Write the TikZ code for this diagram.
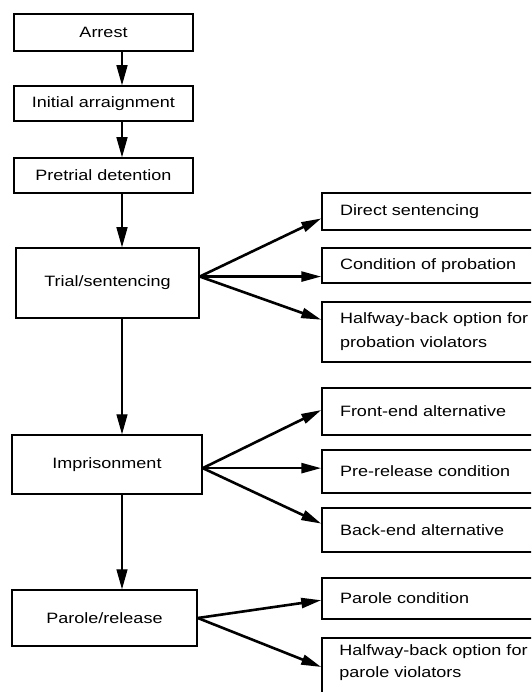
\documentclass[tikz,border=0pt]{standalone}
\usepackage{fontspec}
\setmainfont{Liberation Sans}[FakeStretch=1.2]
\usetikzlibrary{arrows.meta,calc}
\begin{document}
\begin{tikzpicture}[x=1pt,y=-1pt,
  box/.style={draw=black, line width=1.5pt, inner sep=0pt, font=\fontsize{15}{24}\selectfont},
  lbox/.style={box, align=center},
  rbox/.style={box, minimum width=238pt, text width=202pt, align=left, inner xsep=18pt},
  txt/.style={inner sep=0pt, font=\fontsize{15}{22}\selectfont, text width=202pt, align=left},
  varrow/.style={line width=1.3pt, -{Triangle[length=20pt,width=11pt]}},
  darrow/.style={line width=2.6pt, -{Triangle[length=20pt,width=10pt]}}]
\path[use as bounding box] (0,0) rectangle (531,692);
\clip (0,0) rectangle (531,692);
\fill[white] (0,0) rectangle (531,692);

% left column
\node[lbox, minimum width=179pt, minimum height=37pt] (arrest) at (103.5,32.5) {Arrest};
\node[lbox, minimum width=179pt, minimum height=35pt] (initial) at (103.5,103.5) {Initial arraignment};
\node[lbox, minimum width=179pt, minimum height=35pt] (pretrial) at (103.5,175.5) {Pretrial detention};
\node[lbox, minimum width=183pt, minimum height=70pt] (trial) at (107.5,283) {Trial/sentencing};
\node[lbox, minimum width=190pt, minimum height=59pt] (prison) at (107,464.5) {Imprisonment};
\node[lbox, minimum width=185pt, minimum height=56pt] (parole) at (104.5,618) {Parole/release};

% right column
\node[rbox, minimum height=37pt] (direct) at (441,211.5) {Direct sentencing};
\node[rbox, minimum height=35pt] (cond) at (441,265.5) {Condition of probation};
\node[rbox, minimum height=60pt] (hw1) at (441,332) {Halfway-back option for\\probation violators};
\node[rbox, minimum height=47pt] (front) at (441,411.5) {Front-end alternative};
\node[rbox, minimum height=43pt] (prerel) at (441,471.5) {Pre-release condition};
\node[rbox, minimum height=44pt] (back) at (441,530) {Back-end alternative};
\node[rbox, minimum height=41pt] (parcond) at (441,598.5) {Parole condition};
\node[box, minimum width=238pt, minimum height=80pt, anchor=north] (hw2) at (441,637) {};
\node[txt, anchor=west] (hw2text) at ($(hw2.north west)+(18,26)$) {Halfway-back option for\\parole violators};

% vertical arrows
\coordinate (vx) at (122,0);
\draw[varrow] (arrest.south -| vx) -- (initial.north -| vx);
\draw[varrow] (initial.south -| vx) -- (pretrial.north -| vx);
\draw[varrow] (pretrial.south -| vx) -- (trial.north -| vx);
\draw[varrow] (trial.south -| vx) -- (prison.north -| vx);
\draw[varrow] (prison.south -| vx) -- (parole.north -| vx);

% branching arrows
\coordinate (tO) at ($(trial.north east)!0.41!(trial.south east)$);
\draw[darrow] (tO) -- ($(direct.north west)!0.68!(direct.south west)$);
\draw[darrow] (tO) -- (tO -| cond.west);
\draw[darrow] (tO) -- ($(hw1.north west)!0.3!(hw1.south west)$);

\coordinate (pO) at ($(prison.north east)!0.56!(prison.south east)$);
\draw[darrow] (pO) -- ($(front.north west)!0.47!(front.south west)$);
\draw[darrow] (pO) -- (pO -| prerel.west);
\draw[darrow] (pO) -- ($(back.north west)!0.36!(back.south west)$);

\coordinate (rO) at (parole.east);
\draw[darrow] (rO) -- ($(parcond.north west)!0.54!(parcond.south west)$);
\draw[darrow] (rO) -- ($(hw2.north west)+(0,30)$);
\end{tikzpicture}
\end{document}
